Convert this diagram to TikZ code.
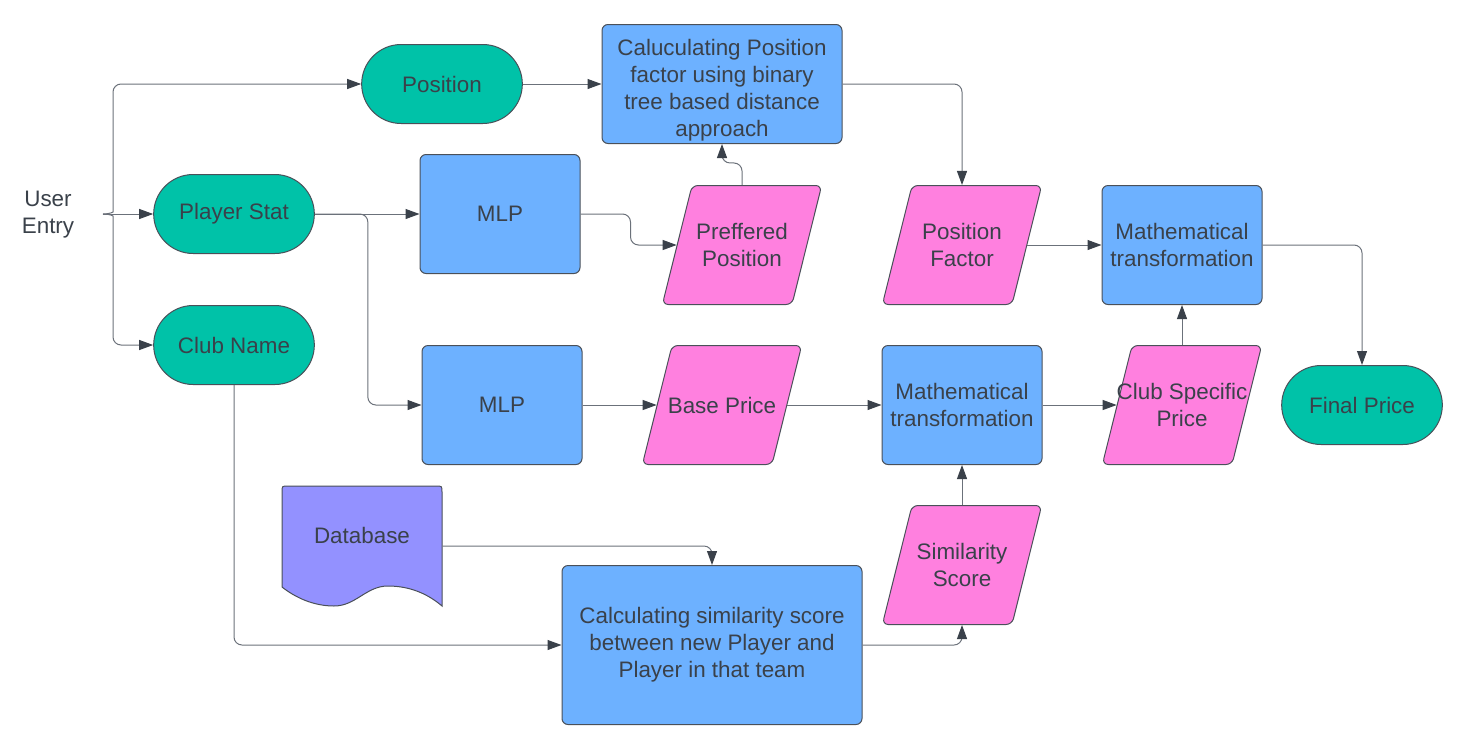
\documentclass[tikz,border=0pt]{standalone}
\usepackage{fontspec}
\setmainfont{Liberation Sans}
\usetikzlibrary{arrows.meta,shapes.geometric,shapes.misc}

\newcommand{\ptext}[1]{\parbox[c][59.5pt][c]{50pt}{\centering #1}}

\begin{document}
\begin{tikzpicture}[x=0.5pt,y=-0.5pt,
  every node/.style={font=\fontsize{11.2}{13.5}\selectfont,text=txtgray},
  term/.style={rounded rectangle,draw=bordergray,fill=tealfill,line width=0.5pt,
    minimum width=87pt,minimum height=39.5pt},
  proc/.style={rectangle,rounded corners=3pt,draw=bordergray,fill=bluefill,line width=0.5pt,
    minimum width=80pt,minimum height=59.5pt,align=center},
  para/.style={trapezium,trapezium left angle=76,trapezium right angle=104,
    rounded corners=3pt,draw=bordergray,fill=pinkfill,line width=0.5pt,inner sep=0pt},
  conn/.style={-{Triangle[length=7pt,width=5pt,color=txtgray]},draw=linegray,
    line width=0.5pt,rounded corners=4pt}]

\definecolor{txtgray}{HTML}{3A414A}
\definecolor{bordergray}{HTML}{4A5059}
\definecolor{linegray}{HTML}{6B717A}
\definecolor{tealfill}{HTML}{00C2A8}
\definecolor{bluefill}{HTML}{6DB1FF}
\definecolor{pinkfill}{HTML}{FF80DF}
\definecolor{dbfill}{HTML}{9391FF}

\useasboundingbox (0,0) rectangle (1460,750);

% inputs
\node[align=center] (entry) at (48,215) {User\\Entry};
\coordinate (tip) at (103,214);
\node[term] (pos) at (442,84) {Position};
\node[term] (stat) at (234,214) {Player Stat};
\node[term] (club) at (234,345) {Club Name};

% upper row
\node[proc,minimum width=120pt] (calcpos) at (722,84)
  {\parbox[c][50pt][c]{110pt}{\vspace{6pt}\centering Caluculating Position\\factor using binary\\tree based distance\\approach}};
\node[proc] (mlpa) at (500,214) {MLP};
\node[para] (pref) at (742,245) {\ptext{Preffered\\Position}};
\node[para] (posf) at (962,245) {\ptext{Position\\Factor}};
\node[proc] (matha) at (1182,245) {Mathematical\\transformation};

% lower row
\node[proc] (mlpb) at (502,405) {MLP};
\node[para] (base) at (722,405) {\ptext{\makebox[\linewidth]{Base Price}}};
\node[proc] (mathb) at (962,405) {Mathematical\\transformation};
\node[para] (clubp) at (1182,405) {\ptext{\makebox[\linewidth]{Club Specific}\\Price}};
\node[term] (final) at (1362,405) {Final Price};

% similarity part
\draw[draw=bordergray,fill=dbfill,line width=0.5pt]
  (282,587) -- (282,492) .. controls (282,486) .. (288,486) -- (436,486)
  .. controls (442,486) .. (442,492) -- (442,606)
  .. controls (428,594) and (410,586) .. (388,586)
  .. controls (366,586) and (356,606) .. (334,606)
  .. controls (314,606) and (296,598) .. cycle;
\node[minimum width=80pt,minimum height=60pt] (db) at (362,546) {\raisebox{11pt}{Database}};
\node[proc,minimum width=150pt,minimum height=79.5pt] (calcsim) at (712,645)
  {Calculating similarity score\\between new Player and\\Player in that team};
\node[para] (simil) at (962,565) {\ptext{Similarity\\Score}};

% connectors
\draw[conn] (tip) .. controls (110,214) and (113,212) .. (113,204) |- (pos.west);
\draw[conn] (tip) -- (stat.west);
\draw[conn] (tip) .. controls (110,214) and (113,216) .. (113,224) |- (club.west);
\draw[conn] (pos.east) -- (calcpos.west);
\draw[conn] (stat.east) -- (mlpa.west);
\draw[conn] (stat.east) -- ++(53,0) |- (mlpb.west);
\draw[conn] (mlpa.east) -- ++(50,0) |- (pref.west);
\draw[conn] (pref.center |- pref.north) -- ++(0,-22) -| (calcpos.south);
\draw[conn] (calcpos.east) -| (posf.center |- posf.north);
\draw[conn] (posf.east) -- (matha.west);
\draw[conn] (matha.east) -| (final.north);
\draw[conn] (clubp.center |- clubp.north) -- (matha.south);
\draw[conn] (mlpb.east) -- (base.west);
\draw[conn] (base.east) -- (mathb.west);
\draw[conn] (mathb.east) -- (clubp.west);
\draw[conn] (simil.center |- simil.north) -- (mathb.south);
\draw[conn] (club.south) |- (calcsim.west);
\draw[conn] (db.east) -| (calcsim.north);
\draw[conn] (calcsim.east) -| (simil.center |- simil.south);

\end{tikzpicture}
\end{document}
